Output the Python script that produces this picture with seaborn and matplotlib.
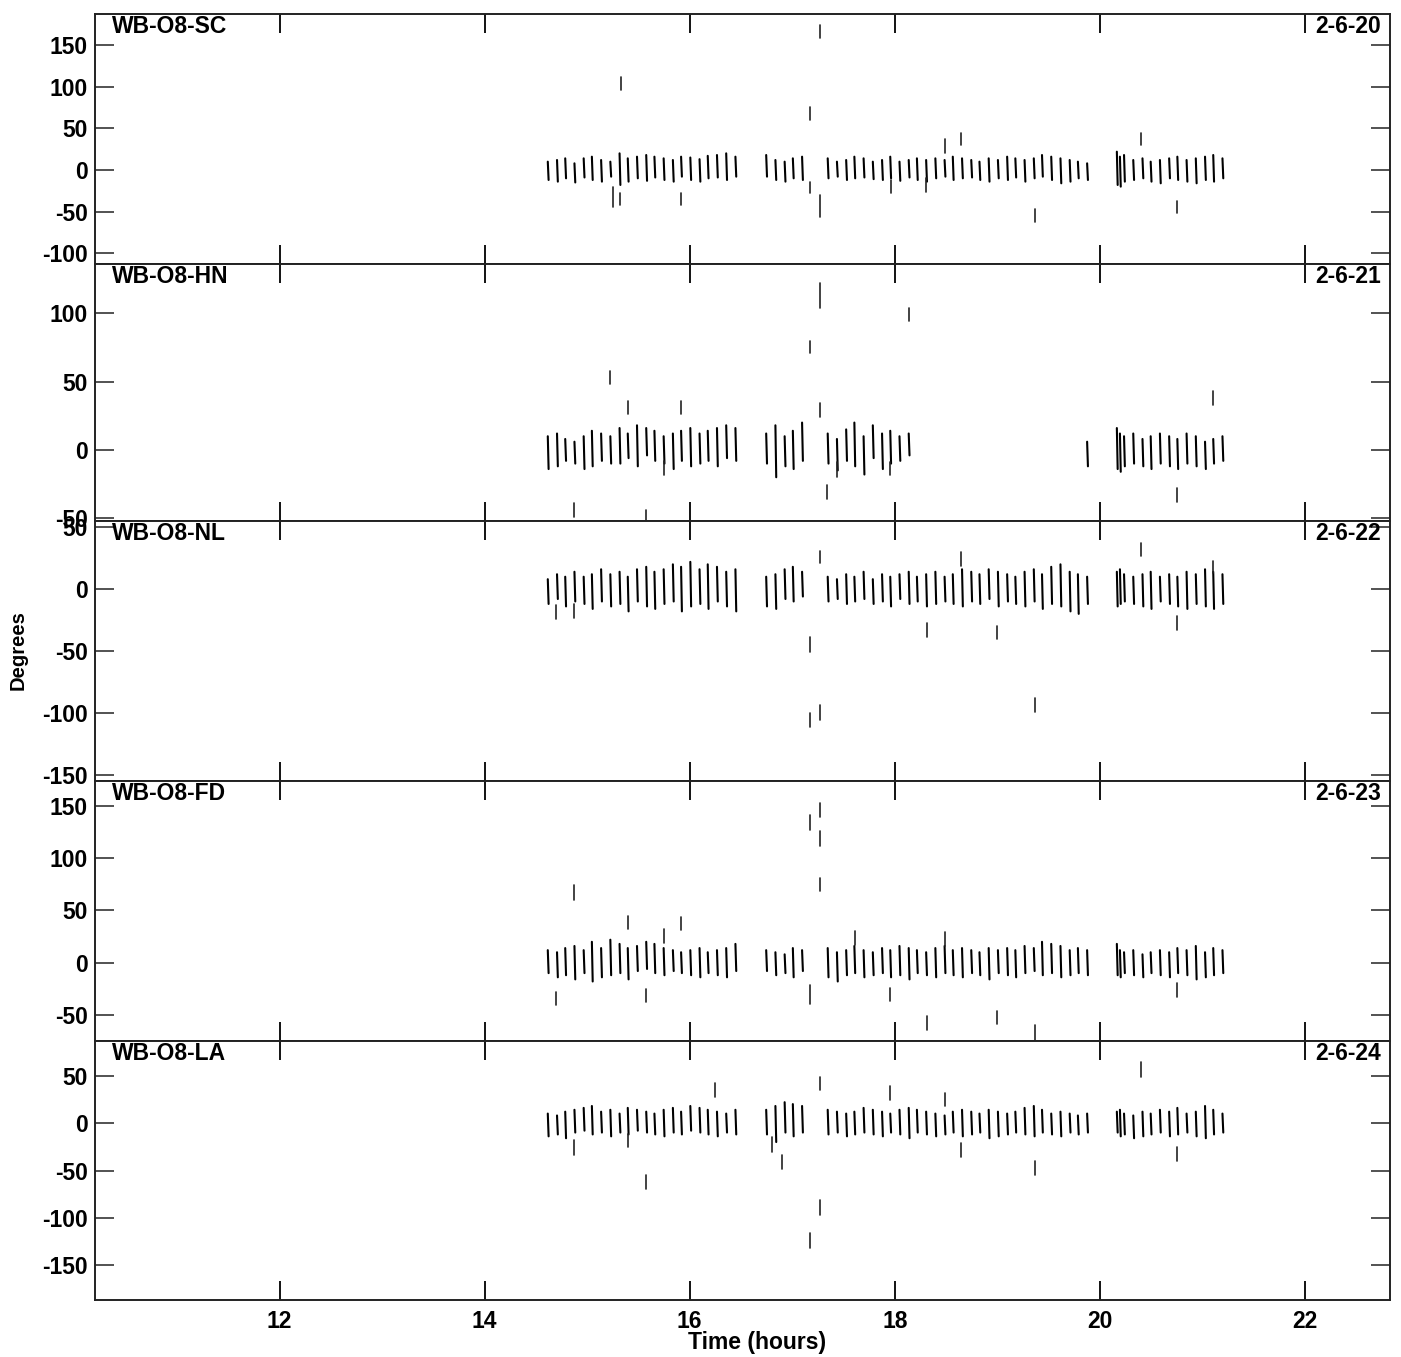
import numpy as np
import pandas as pd
import matplotlib
matplotlib.use("Agg")
import matplotlib.pyplot as plt
import seaborn as sns

# ---------------- data ----------------
nan = np.nan
stations = ["WB-O8-SC", "WB-O8-HN", "WB-O8-NL", "WB-O8-FD", "WB-O8-LA"]
dates = ["2-6-20", "2-6-21", "2-6-22", "2-6-23", "2-6-24"]

scan_time_a = [14.62, 14.71, 14.79, 14.88, 14.97, 15.05, 15.14, 15.23, 15.32, 15.40, 15.49,
               15.58, 15.66, 15.75, 15.84, 15.92, 16.01, 16.10, 16.18, 16.27, 16.36, 16.45]
scan_time_b = [16.75, 16.84, 16.93, 17.01, 17.10]
scan_time_c = [17.35, 17.44, 17.53, 17.61, 17.70, 17.79, 17.88, 17.96, 18.05, 18.14,
               18.22, 18.31, 18.40, 18.49, 18.57, 18.66, 18.75, 18.83, 18.92, 19.01,
               19.10, 19.18, 19.27, 19.36, 19.44, 19.53, 19.62, 19.71, 19.79, 19.88]
scan_time_d = [20.17, 20.20, 20.24, 20.33, 20.42, 20.50, 20.59, 20.68, 20.76, 20.85,
               20.94, 21.03, 21.11, 21.20]

# scan low / high phase (degrees), segments A, B, C, D
sc_lo = ([-12, -14, -10, -15, -9, -12, -14, -8, -18, -14, -10, -13, -9, -12, -14, -8, -12, -14, -10, -9, -12, -8]
         + [-8, -12, -14, -10, -12]
         + [-10, -8, -12, -10, -9, -11, -12, -10, -13, -9, -12, -14, -10, -8, -12, -10, -9, -12, -14, -10,
            -12, -9, -14, -10, -8, -12, -16, -14, -10, -12]
         + [-18, -20, -14, -12, -10, -14, -16, -10, -12, -14, -16, -12, -14, -10])
sc_hi = ([10, 12, 14, 8, 14, 16, 12, 10, 20, 14, 16, 18, 16, 14, 12, 16, 15, 13, 17, 18, 20, 16]
         + [18, 12, 10, 14, 16]
         + [14, 10, 12, 16, 14, 10, 12, 16, 10, 12, 14, 12, 14, 12, 16, 14, 12, 10, 14, 12,
            16, 14, 12, 14, 18, 16, 14, 12, 10, 8]
         + [22, 16, 18, 12, 14, 10, 12, 14, 16, 12, 14, 16, 18, 14])

hn_lo = ([-14, -12, -8, -10, -14, -12, -8, -10, -10, -6, -12, -4, -8, -10, -14, -8, -12, -10, -8, -12, -6, -8]
         + [-10, -20, -12, -14, -8]
         + [-10, -15, -8, -12, -18, -6, -14, -10, -8, -4] + [nan] * 19 + [-12]
         + [-14, -16, -12, -10, -12, -14, -10, -12, -14, -10, -12, -14, -10, -8])
hn_hi = ([10, 12, 8, 6, 10, 14, 12, 10, 16, 12, 18, 16, 14, 10, 12, 14, 16, 12, 14, 16, 18, 16]
         + [12, 18, 10, 14, 20]
         + [12, 8, 15, 20, 10, 18, 12, 14, 10, 12] + [nan] * 19 + [6]
         + [16, 12, 10, 12, 8, 10, 12, 10, 8, 12, 10, 6, 8, 10])

nl_lo = ([-12, -8, -14, -10, -12, -16, -10, -14, -12, -18, -10, -14, -16, -12, -10, -18, -14, -12, -16, -10, -14, -18]
         + [-14, -16, -8, -10, -6]
         + [-10, -8, -12, -10, -8, -12, -10, -14, -8, -12, -10, -14, -12, -10, -12, -14, -10, -12, -8, -14,
            -10, -12, -14, -10, -16, -12, -14, -18, -20, -12]
         + [-14, -12, -10, -12, -14, -16, -10, -12, -14, -16, -12, -14, -16, -12])
nl_hi = ([8, 12, 10, 14, 10, 12, 16, 12, 14, 10, 16, 18, 14, 16, 20, 18, 22, 16, 20, 18, 14, 16]
         + [10, 12, 16, 18, 14]
         + [10, 8, 12, 10, 14, 8, 12, 10, 12, 14, 10, 12, 14, 10, 12, 16, 14, 12, 16, 14,
            12, 10, 14, 16, 12, 18, 20, 14, 12, 10]
         + [14, 16, 12, 10, 12, 14, 10, 12, 10, 14, 12, 16, 14, 12])

fd_lo = ([-10, -14, -12, -16, -10, -18, -14, -12, -10, -16, -8, -6, -10, -12, -8, -10, -12, -14, -10, -12, -14, -8]
         + [-8, -12, -10, -14, -8]
         + [-14, -18, -12, -10, -14, -12, -10, -14, -12, -16, -10, -12, -14, -10, -12, -14, -10, -12, -16, -10,
            -12, -14, -10, -8, -12, -10, -14, -12, -10, -12]
         + [-12, -14, -10, -12, -14, -10, -12, -14, -10, -12, -16, -14, -12, -10])
fd_hi = ([12, 10, 14, 16, 12, 20, 14, 22, 18, 14, 16, 20, 18, 14, 12, 10, 12, 14, 10, 12, 14, 18]
         + [12, 10, 8, 14, 12]
         + [14, 10, 12, 16, 12, 10, 14, 12, 16, 14, 12, 10, 14, 16, 12, 14, 12, 10, 14, 12,
            14, 12, 16, 14, 20, 18, 16, 12, 14, 12]
         + [18, 12, 10, 12, 8, 10, 12, 10, 14, 12, 16, 10, 14, 12])

la_lo = ([-14, -12, -16, -10, -8, -12, -10, -14, -10, -12, -8, -10, -12, -14, -10, -12, -8, -10, -12, -14, -10, -12]
         + [-12, -20, -10, -14, -10]
         + [-12, -10, -14, -12, -10, -12, -14, -10, -12, -16, -10, -12, -14, -12, -10, -14, -12, -10, -16, -14,
            -12, -10, -12, -14, -10, -12, -14, -10, -12, -10]
         + [-10, -14, -12, -16, -14, -12, -10, -14, -12, -10, -14, -16, -12, -10])
la_hi = ([10, 8, 12, 14, 16, 18, 12, 14, 10, 16, 14, 12, 10, 14, 16, 12, 18, 16, 14, 12, 10, 14]
         + [14, 18, 22, 20, 18]
         + [14, 12, 10, 12, 16, 14, 12, 10, 14, 16, 14, 12, 10, 8, 12, 14, 12, 10, 14, 12,
            10, 12, 16, 18, 14, 10, 12, 10, 8, 10]
         + [12, 14, 10, 8, 12, 10, 14, 12, 16, 10, 12, 18, 14, 10])

# isolated outlier points (time, low, high)
sc_out_t = [15.33, 17.27, 17.17, 15.25, 15.32, 15.92, 17.17, 17.27, 18.49, 18.65, 17.96, 18.30, 19.37, 20.40, 20.75]
sc_out_lo = [96, 159, 60, -45, -42, -42, -28, -57, 21, 30, -28, -26, -62, 30, -52]
sc_out_hi = [112, 174, 76, -20, -28, -28, -15, -30, 37, 45, -12, -10, -47, 45, -37]

hn_out_t = [17.27, 17.17, 18.14, 15.22, 15.40, 15.92, 17.27, 21.10, 14.87, 15.57, 17.34, 17.44, 17.95, 20.75, 15.75]
hn_out_lo = [104, 71, 94, 48, 26, 26, 24, 33, -49, -52, -36, -20, -18, -38, -18]
hn_out_hi = [122, 80, 104, 58, 36, 36, 34, 43, -39, -44, -26, -9, -9, -28, -8]

nl_out_t = [20.40, 17.27, 18.65, 17.17, 18.31, 19.00, 19.37, 17.17, 17.27, 14.70, 14.87, 20.75, 21.10]
nl_out_lo = [27, 21, 19, -51, -39, -40, -99, -111, -106, -24, -23, -33, 13]
nl_out_hi = [37, 31, 30, -39, -27, -30, -88, -100, -94, -13, -12, -22, 23]

fd_out_t = [17.27, 17.17, 17.27, 17.27, 14.87, 15.40, 15.75, 15.92, 14.70, 15.57, 17.17, 17.95,
            18.31, 19.00, 19.37, 20.75, 17.61, 18.49]
fd_out_lo = [140, 127, 112, 69, 60, 32, 19, 31, -41, -38, -40, -37, -64, -59, -74, -33, 17, 16]
fd_out_hi = [153, 141, 126, 81, 74, 45, 32, 44, -28, -25, -21, -24, -51, -46, -60, -19, 30, 29]

la_out_t = [16.25, 17.27, 17.95, 18.49, 20.40, 14.87, 15.40, 15.57, 16.80, 16.90, 17.27, 17.17, 18.65, 19.37, 20.75]
la_out_lo = [27, 35, 24, 18, 49, -34, -25, -69, -31, -48, -97, -132, -36, -55, -40]
la_out_hi = [42, 49, 39, 32, 64, -18, -11, -55, -15, -34, -81, -116, -21, -40, -25]

y_ticks = [[-100, -50, 0, 50, 100, 150], [-50, 0, 50, 100], [-150, -100, -50, 0, 50],
           [-50, 0, 50, 100, 150], [-150, -100, -50, 0, 50]]
y_limits = [(-113, 187.5), (-52, 136), (-155, 55), (-75, 174), (-186.5, 86.5)]
x_ticks = [12, 14, 16, 18, 20, 22]

# ---------------- style ----------------
sns.set_theme(style="white")
plt.rcParams["font.family"] = ["Liberation Sans", "DejaVu Sans"]
plt.rcParams["font.weight"] = "bold"
plt.rcParams["axes.unicode_minus"] = False
plt.rcParams["text.color"] = "black"
plt.rcParams["axes.labelcolor"] = "black"
plt.rcParams["xtick.color"] = "black"
plt.rcParams["ytick.color"] = "black"

fig = plt.figure(figsize=(14.01, 13.57), dpi=100)
gs = fig.add_gridspec(5, 1, left=95 / 1401, right=1390 / 1401, top=1 - 14 / 1357,
                      bottom=1 - 1300 / 1357, hspace=0, height_ratios=[250, 257, 260, 260, 259])

scan_times = scan_time_a + scan_time_b + scan_time_c + scan_time_d
panels = [(sc_lo, sc_hi, sc_out_t, sc_out_lo, sc_out_hi),
          (hn_lo, hn_hi, hn_out_t, hn_out_lo, hn_out_hi),
          (nl_lo, nl_hi, nl_out_t, nl_out_lo, nl_out_hi),
          (fd_lo, fd_hi, fd_out_t, fd_out_lo, fd_out_hi),
          (la_lo, la_hi, la_out_t, la_out_lo, la_out_hi)]

axes = []
for i, (lo, hi, ot, olo, ohi) in enumerate(panels):
    ax = fig.add_subplot(gs[i], sharex=axes[0] if axes else None)
    axes.append(ax)
    rows = []
    for k, (t, a, b) in enumerate(zip(scan_times, lo, hi)):
        if np.isnan(a):
            continue
        rows.append((k, t - 0.004, b))
        rows.append((k, t + 0.004, a))
    scans = pd.DataFrame(rows, columns=["unit", "time", "deg"])
    sns.lineplot(data=scans, x="time", y="deg", units="unit", estimator=None, sort=False,
                 color="black", lw=1.5, ax=ax, legend=False)
    orows = []
    for k, (t, a, b) in enumerate(zip(ot, olo, ohi)):
        orows.append((k, t, a))
        orows.append((k, t, b))
    outs = pd.DataFrame(orows, columns=["unit", "time", "deg"])
    sns.lineplot(data=outs, x="time", y="deg", units="unit", estimator=None, sort=False,
                 color="#222222", lw=1.2, ax=ax, legend=False)

    ax.set_xlim(10.2, 22.83)
    ax.set_ylim(*y_limits[i])
    ax.set_yticks(y_ticks[i])
    ax.set_xticks(x_ticks)
    ax.set_xlabel("")
    ax.set_ylabel("")
    ax.tick_params(axis="x", direction="in", top=True, bottom=True, length=14, width=1.3,
                   color="black", labelcolor="black", labelsize=16.5, pad=7, labelbottom=(i == 4))
    ax.tick_params(axis="y", direction="in", left=True, right=True, length=14, width=1.3,
                   color="#444444", labelcolor="black", labelsize=16.5, pad=5)
    for s in ax.spines.values():
        s.set_color("#222222")
        s.set_linewidth(1.4)
    ax.annotate(stations[i], xy=(0, 1), xycoords="axes fraction", xytext=(17, -1),
                textcoords="offset pixels", ha="left", va="top", fontsize=16.5,
                fontweight="bold", color="black")
    ax.annotate(dates[i], xy=(1, 1), xycoords="axes fraction", xytext=(-9, -1),
                textcoords="offset pixels", ha="right", va="top", fontsize=16.5,
                fontweight="bold", color="black")
    for lab in ax.get_xticklabels() + ax.get_yticklabels():
        lab.set_fontweight("bold")

fig.text(18 / 1401, 1 - 650 / 1357, "Degrees", rotation=90, ha="center", va="center",
         fontsize=14.5, fontweight="bold", color="black")
fig.text(757 / 1401, 1 - 1342 / 1357, "Time (hours)", ha="center", va="center",
         fontsize=16.5, fontweight="bold", color="black")

fig.savefig("out.png", dpi=100, facecolor="white")
